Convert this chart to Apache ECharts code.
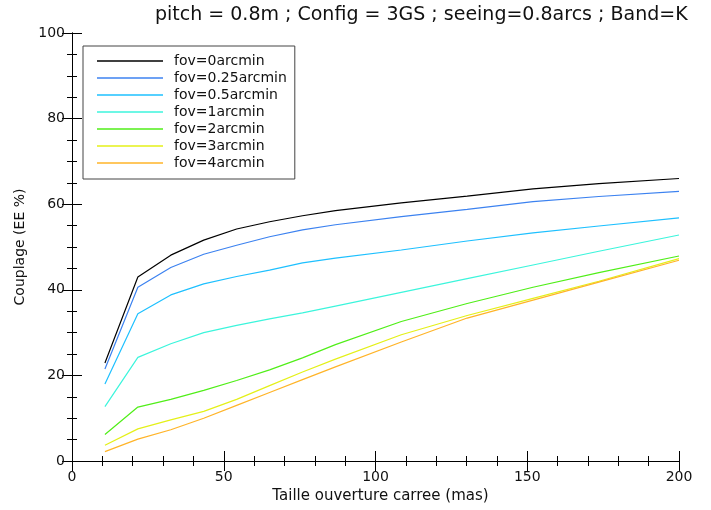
<!DOCTYPE html>
<html>
<head>
<meta charset="utf-8">
<script src="https://cdn.jsdelivr.net/npm/echarts@6/dist/echarts.min.js"></script>
<style>html,body{margin:0;padding:0;background:#fff}#c{width:711px;height:510px}</style>
</head>
<body>
<div id="c"></div>
<script>
const titleText = 'pitch = 0.8m ; Config = 3GS ; seeing=0.8arcs ; Band=K';
const xName = 'Taille ouverture carree (mas)';
const yName = 'Couplage (EE %)';
const seriesNames = ['fov=0arcmin','fov=0.25arcmin','fov=0.5arcmin','fov=1arcmin','fov=2arcmin','fov=3arcmin','fov=4arcmin'];
const seriesColors = ['#000000','#3c82f0','#1ec0ff','#3cf5dc','#50ee18','#e4f018','#ffb428'];
const xs = [10.85, 21.7, 32.55, 43.4, 54.25, 65.1, 75.95, 86.8, 108.5, 130.2, 151.9, 173.6, 200];
const fov0   = [22.9, 43.0, 48.1, 51.6, 54.2, 55.9, 57.3, 58.5, 60.3, 61.9, 63.6, 64.8, 66.0];
const fov025 = [21.5, 40.6, 45.2, 48.3, 50.4, 52.4, 54.0, 55.2, 57.1, 58.8, 60.6, 61.8, 63.0];
const fov05  = [18.0, 34.4, 38.8, 41.4, 43.1, 44.6, 46.3, 47.4, 49.3, 51.4, 53.3, 54.9, 56.8];
const fov1   = [12.7, 24.2, 27.4, 30.0, 31.7, 33.2, 34.6, 36.2, 39.4, 42.6, 45.8, 49.0, 52.8];
const fov2   = [6.2, 12.6, 14.4, 16.5, 18.8, 21.3, 24.1, 27.2, 32.6, 36.8, 40.6, 44.0, 47.9];
const fov3   = [3.7, 7.5, 9.6, 11.6, 14.4, 17.6, 20.8, 23.8, 29.5, 34.0, 38.0, 42.0, 47.3];
const fov4   = [2.2, 5.1, 7.3, 10.0, 13.0, 16.0, 19.0, 22.0, 27.8, 33.4, 37.6, 41.8, 46.9];
const allValues = [fov0, fov025, fov05, fov1, fov2, fov3, fov4];

const FONT = 'DejaVu Sans';
const chart = echarts.init(document.getElementById('c'), null, {renderer: 'canvas'});

function axisCommon(showLabel, interval, minorSplit) {
  return {
    type: 'value',
    min: 0,
    interval: interval,
    axisLine: {show: true, lineStyle: {color: '#000', width: 1}},
    axisTick: {show: true, inside: true, length: 10, lineStyle: {color: '#000', width: 1}},
    minorTick: {show: true, splitNumber: minorSplit, length: 5, lineStyle: {color: '#000', width: 1}},
    splitLine: {show: false},
    minorSplitLine: {show: false},
    axisLabel: {show: showLabel, color: '#111', fontFamily: FONT, fontSize: 14}
  };
}

const option = {
  animation: false,
  backgroundColor: '#fff',
  title: {
    text: titleText,
    left: 150,
    top: 1,
    textStyle: {fontFamily: FONT, fontSize: 19, fontWeight: 'normal', color: '#111'}
  },
  legend: {
    orient: 'vertical',
    left: 83,
    top: 46,
    icon: 'rect',
    itemWidth: 66,
    itemHeight: 1.5,
    itemGap: 3,
    padding: [8, 8, 9, 14],
    borderColor: '#444',
    borderWidth: 1,
    textStyle: {fontFamily: FONT, fontSize: 14, color: '#111', padding: [0, 0, 0, 6]},
    data: seriesNames
  },
  grid: {left: 72, right: 32, top: 33, bottom: 49, containLabel: false},
  xAxis: [
    Object.assign(axisCommon(true, 50, 5), {max: 200, position: 'bottom',
      name: xName, nameLocation: 'middle', nameGap: 26,
      nameTextStyle: {fontFamily: FONT, fontSize: 15, color: '#111', padding: [0, 0, 0, 10]},
      axisLabel: {show: true, color: '#111', fontFamily: FONT, fontSize: 14, margin: 9}}),
    Object.assign(axisCommon(false, 50, 5), {max: 200, position: 'top'})
  ],
  yAxis: [
    Object.assign(axisCommon(true, 20, 4), {max: 100, position: 'left',
      name: yName, nameLocation: 'middle', nameGap: 45, nameRotate: 90,
      nameTextStyle: {fontFamily: FONT, fontSize: 14, color: '#111'},
      axisLabel: {show: true, color: '#111', fontFamily: FONT, fontSize: 14, margin: 7}}),
    Object.assign(axisCommon(false, 20, 4), {max: 100, position: 'right'})
  ],
  series: seriesNames.map((name, i) => ({
    name: name,
    type: 'line',
    xAxisIndex: 0,
    yAxisIndex: 0,
    showSymbol: false,
    symbol: 'none',
    lineStyle: {width: 1.2, color: seriesColors[i]},
    itemStyle: {color: seriesColors[i]},
    data: xs.map((x, j) => [x, allValues[i][j]])
  }))
};
chart.setOption(option);
</script>
</body>
</html>
